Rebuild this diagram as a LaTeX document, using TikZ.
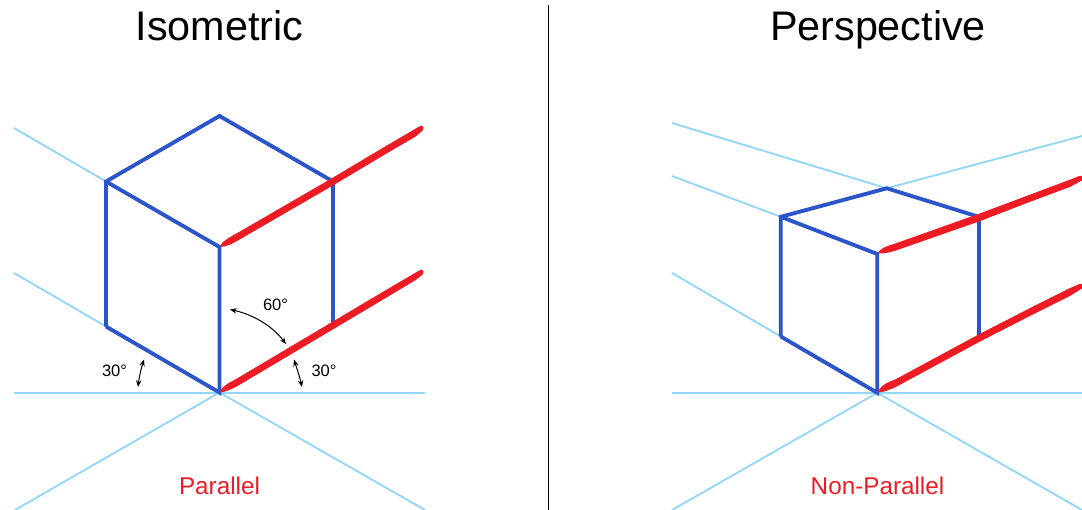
\documentclass[tikz,border=0pt]{standalone}
\usepackage{fontspec}
\setmainfont{Liberation Sans}
\usetikzlibrary{arrows.meta}
\definecolor{guide}{HTML}{93D6F7}
\definecolor{cube}{HTML}{2B55C8}
\definecolor{hot}{HTML}{ED1C24}
\tikzset{
  guideline/.style={guide,line width=1.4pt},
  cubeline/.style={cube,line width=2.9pt,line join=miter},
  hotfill/.style={fill=hot,draw=hot,line width=1.2pt,line join=round},
  title/.style={inner sep=0,anchor=base,font=\fontsize{31}{36}\selectfont},
  caption/.style={inner sep=0,anchor=base,text=hot,font=\fontsize{18.2}{21}\selectfont},
  angle/.style={inner sep=0,font=\fontsize{12.4}{15}\selectfont},
  dim/.style={black,line width=0.75pt,{Stealth[length=5pt,width=4pt]}-{Stealth[length=5pt,width=4pt]}},
}
\begin{document}
\begin{tikzpicture}[x=0.75pt,y=-0.75pt]
\useasboundingbox (0,0) rectangle (1082,510);
% left cube points
\coordinate (O) at (219.5,392.5);
\coordinate (A) at (219.5,247);
\coordinate (B) at (106,181.5);
\coordinate (C) at (219.5,116);
\coordinate (D) at (333,181.5);
\coordinate (E) at (106,326.5);
\coordinate (F) at (333,326);
\coordinate (g1) at (14,392.7);
\coordinate (g2) at (425,392.7);
\coordinate (g3) at (14,128);
\coordinate (g4) at (14,273);
\coordinate (g5) at (15,510);
\coordinate (g6) at (425,510);
\draw[guideline] (g1) -- (g2);
\draw[guideline] (g3) -- (B);
\draw[guideline] (g4) -- (E);
\draw[guideline] (O) -- (g5);
\draw[guideline] (O) -- (g6);
\draw[cubeline] (E) -- (B) -- (C) -- (D);
\draw[cubeline] (B) -- (A) -- (O) -- (E);
\draw[cubeline] (D) -- (F);
% red strokes, left
\fill[hotfill] (221,391.5) .. controls (223,387) and (228,384) .. (236,380) -- (333,322.4) -- (385,291.5) -- (420,271) .. controls (423,270) and (423.5,272) .. (422,274) -- (415,279.5) -- (385,297.5) -- (333,328.4) -- (236,386) .. controls (230,389) and (225,391) .. (221,391.5) -- cycle;
\fill[hotfill] (221,246) .. controls (223,242) and (228,239) .. (236,234.7) -- (333,178.5) -- (385,147.5) -- (420,127) .. controls (423,126) and (423.5,128) .. (422,130) -- (415,136) -- (385,153.5) -- (333,184.5) -- (236,240.7) .. controls (230,244) and (225,246) .. (221,246) -- cycle;
% angles
\coordinate (a1) at (230,309.5);
\coordinate (a2) at (286,344);
\coordinate (b1) at (144,359.5);
\coordinate (b2) at (138,387);
\coordinate (c1) at (294,359.5);
\coordinate (c2) at (302,387);
\draw[dim] (a1) .. controls (255,315) and (273,327) .. (a2);
\draw[dim] (b1) .. controls (141,369) and (139,378) .. (b2);
\draw[dim] (c1) .. controls (297,369) and (300,378) .. (c2);
\node[angle] (l60) at (275.5,304.5) {60°};
\node[angle] (l30a) at (114.5,371) {30°};
\node[angle] (l30b) at (324,371) {30°};
\node[caption] (lcap) at (219.5,494.5) {Parallel};
\node[title] (ltitle) at (219.5,41) {Isometric};
% divider
\coordinate (d1) at (548.5,5);
\coordinate (d2) at (548.5,510);
\draw[black,line width=1.35pt] (d1) -- (d2);
% right cube points
\coordinate (P) at (877.3,392.8);
\coordinate (Q) at (877.3,254);
\coordinate (R) at (780.8,216.8);
\coordinate (S) at (886.7,188.3);
\coordinate (T) at (979.3,217);
\coordinate (U) at (780.8,336.5);
\coordinate (V) at (979.3,337);
\coordinate (h1) at (672,392.7);
\coordinate (h2) at (1082,392.7);
\coordinate (h3) at (672,123);
\coordinate (h4) at (1082,136);
\coordinate (h5) at (672,176);
\coordinate (h6) at (672,273);
\coordinate (h7) at (672,510);
\coordinate (h8) at (1082,510);
\draw[guideline] (h1) -- (h2);
\draw[guideline] (h3) -- (S) -- (h4);
\draw[guideline] (h5) -- (R);
\draw[guideline] (h6) -- (U);
\draw[guideline] (P) -- (h7);
\draw[guideline] (P) -- (h8);
\draw[cubeline] (U) -- (R) -- (S) -- (T);
\draw[cubeline] (R) -- (Q) -- (P) -- (U);
\draw[cubeline] (T) -- (V);
% red strokes, right
\fill[hotfill] (879,391.5) .. controls (881,387) and (886,383.5) .. (895,380.5) -- (979.3,335) -- (1030,309) -- (1070,289) -- (1079,285) .. controls (1081,284.5) and (1081.5,284.5) .. (1082,285) -- (1082,287.5) -- (1070,295) -- (1030,315) -- (979.3,341) -- (895,386.5) .. controls (888,389.5) and (883,391.5) .. (879,391.5) -- cycle;
\fill[hotfill] (879,252.5) .. controls (881,249.5) and (886,247) .. (895,244.5) -- (979.3,214.5) -- (1030,195.5) -- (1070,180.5) -- (1079,177) .. controls (1081,176.5) and (1081.5,176.5) .. (1082,177) -- (1082,179.5) -- (1070,186) -- (1030,201) -- (979.3,220.5) -- (895,250) .. controls (888,252) and (883,253) .. (879,252.5) -- cycle;
\node[caption] (rcap) at (877.5,494.5) {Non-Parallel};
\node[title] (rtitle) at (878,41) {Perspective};
\end{tikzpicture}
\end{document}
